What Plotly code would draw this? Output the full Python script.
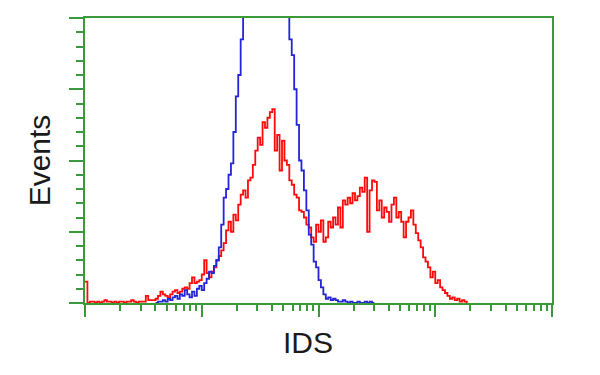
import plotly.graph_objects as go

# Histogram data: log-scale channels, 48 channels per decade, 4 decades
CH_PER_DECADE = 48

red_start = 0
red_counts = [15,
              0, 1, 1, 0, 1, 0, 1, 2, 1, 1, 0, 1, 0, 1, 1, 0, 1, 1, 2, 1, 0, 1,
              1, 1, 5, 2, 2, 2, 3, 5, 8, 6, 5, 4, 6, 8, 9, 7, 8, 10, 11, 10, 14, 18,
              14, 15, 16, 20, 30, 21, 18, 22, 25, 30, 33, 37, 42, 51, 57, 50, 62, 58,
              69, 76, 79, 74, 86, 88, 97, 107, 116, 111, 127, 123, 130, 134, 136, 107,
              118, 93, 114, 100, 97, 86, 83, 76, 74, 65, 64, 60, 55, 53, 46, 43, 55, 50,
              58, 43, 46, 57, 53, 60, 55, 67, 53, 72, 69, 74, 70, 77, 72, 75, 81, 78,
              88, 50, 79, 86, 85, 65, 72, 60, 67, 64, 57, 69, 74, 60, 64, 57, 46, 57,
              60, 65, 55, 49, 44, 39, 32, 29, 25, 18, 22, 14, 16, 11, 9, 7, 5, 3, 4, 2,
              3, 1, 2, 1, 0]

blue_start = 29
blue_counts = [0, 1, 1, 2, 1, 3, 2, 4, 5, 3, 6, 5, 9, 6, 4, 8, 5, 10, 12, 9, 14,
               17, 22, 21, 26, 30, 39, 55, 74, 80, 90, 98, 120, 145, 160, 185, 210,
               225, 238, 248, 255, 262, 266, 270, 268, 265, 262, 255, 248, 240, 232,
               222, 212, 205, 202, 185, 174, 150, 125, 100, 93, 79, 65, 48, 41, 29, 25,
               16, 11, 6, 3, 4, 2, 3, 2, 1, 1, 2, 1, 0, 1, 0, 0, 1, 0, 0, 1, 0, 1, 0, 0]

x_title = "IDS"
y_title = "Events"

GREEN = "#3a9a3a"
RED = "#ff0a0a"
BLUE = "#2424d8"
FONT = "Liberation Sans, Arial, sans-serif"
TEXT = "#1a1a1a"


def to_x(start, n):
    return [10 ** ((start + i) / CH_PER_DECADE) for i in range(n)]


fig = go.Figure()
fig.add_trace(go.Scatter(x=to_x(red_start, len(red_counts)), y=red_counts,
                         mode="lines", line=dict(color=RED, width=1.8, shape="hv"),
                         showlegend=False))
fig.add_trace(go.Scatter(x=to_x(blue_start, len(blue_counts)), y=blue_counts,
                         mode="lines", line=dict(color=BLUE, width=1.8, shape="hv"),
                         showlegend=False))

fig.update_layout(
    width=600, height=375,
    margin=dict(l=85, r=48, t=18, b=72),
    paper_bgcolor="white", plot_bgcolor="white",
    font=dict(family=FONT, color=TEXT),
    xaxis=dict(
        type="log", range=[0, 4], dtick=1,
        showline=True, linecolor=GREEN, linewidth=2, mirror=True,
        ticks="outside", ticklen=12, tickwidth=2, tickcolor=GREEN,
        showticklabels=False, showgrid=False, zeroline=False,
        minor=dict(ticks="outside", ticklen=6, tickwidth=1.5, tickcolor=GREEN,
                   dtick="D1", showgrid=False),
        automargin=False,
    ),
    yaxis=dict(
        range=[0, 200], dtick=50,
        showline=True, linecolor=GREEN, linewidth=2, mirror=True,
        ticks="outside", ticklen=14, tickwidth=2, tickcolor=GREEN,
        showticklabels=False, showgrid=False, zeroline=False,
        minor=dict(ticks="outside", ticklen=7, tickwidth=1.5, tickcolor=GREEN,
                   dtick=10, showgrid=False),
        title=dict(text=y_title, font=dict(size=30, family=FONT, color=TEXT),
                   standoff=10),
        automargin=False,
    ),
    annotations=[dict(text=x_title, xref="paper", yref="paper",
                      x=0.4775, y=-0.075, xanchor="center", yanchor="top",
                      showarrow=False, font=dict(size=30, family=FONT, color=TEXT))],
)

fig.write_html("out.html")
